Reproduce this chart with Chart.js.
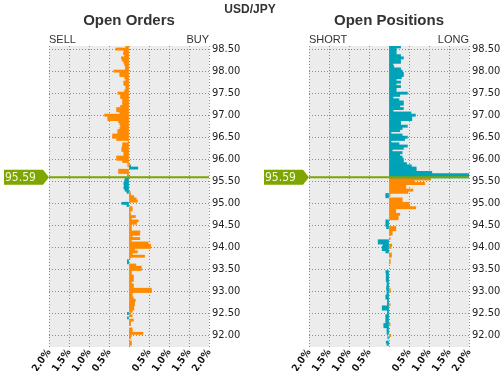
<!DOCTYPE html>
<html>
<head>
<meta charset="utf-8">
<script src="https://cdn.jsdelivr.net/npm/chart.js@4/dist/chart.umd.min.js"></script>
<style>
body { margin: 0; background: #fff; }
#wrap { position: relative; width: 500px; height: 371px; }
canvas { position: absolute; top: 0; }
#pair { position: absolute; top: 2px; left: 0; width: 500px; text-align: center;
        font: bold 12px 'Liberation Sans', Arial, sans-serif; color: #333; }
</style>
</head>
<body>
<div id="wrap">
  <canvas id="ordersChart" width="250" height="371" style="left:0"></canvas>
  <canvas id="positionsChart" width="250" height="371" style="left:250px"></canvas>
  <div id="pair">USD/JPY</div>
</div>
<script>
// price buckets run from topLevel downwards in levelStep steps
const currentPrice = 95.59;
const topLevel = 98.55;
const levelStep = 0.05;
const yTicks = [92.0, 92.5, 93.0, 93.5, 94.0, 94.5, 95.0, 95.5, 96.0, 96.5, 97.0, 97.5, 98.0, 98.5];
const xTicks = [-2, -1.5, -1, -0.5, 0, 0.5, 1, 1.5, 2];

// open orders, % per bucket (negative = sell side)
const ordersOrange = [
  -0.08, -0.33, -0.13, -0.14, -0.11, -0.19, -0.17, -0.13, -0.11, -0.09,
  -0.09, -0.38, -0.23, -0.23, -0.11, -0.08, -0.13, -0.13, -0.08, -0.08,
  -0.11, -0.28, -0.21, -0.21, -0.16, -0.16, -0.16, -0.21, -0.31, -0.31,
  -0.23, -0.61, -0.53, -0.53, -0.26, -0.23, -0.21, -0.23, -0.28, -0.28,
  -0.41, -0.41, -0.31, -0.02, -0.16, -0.16, -0.18, -0.18, -0.13, -0.13,
  -0.31, -0.31, -0.16, -0.03, -0.03, 0, -0.26, -0.26, -0.04, -0.04,
  0, 0, 0, 0, 0, 0, 0.03, 0.04, 0.12, 0.18,
  0.21, 0, 0, 0.08, 0.08, 0.03, 0.04, 0.16, 0.06, 0.23,
  0.19, 0.06, 0.06, 0.06, 0.27, 0.27, 0.08, 0.27, 0.06, 0.48,
  0.54, 0.54, 0.14, 0.21, 0.08, 0.39, 0.03, 0, 0, 0.17,
  0.31, 0.31, 0.06, 0.06, 0.11, 0.11, 0.11, 0.06, 0.11, 0.11,
  0.56, 0.56, 0.08, 0.08, 0.11, 0.16, 0.14, 0.14, 0.12, 0.12,
  0.08, 0, 0.08, 0, 0.11, 0.04, 0.04, 0, 0.08, 0.08,
  0.35, 0.06, 0.04, 0, 0.06, 0.06
];
const ordersTeal = [
  0, 0, 0, 0, 0, 0, 0, 0, 0, 0,
  0, 0, 0, 0, 0, 0, 0, 0, 0, 0,
  0, 0, 0, 0, 0, 0, 0, 0, 0, 0,
  0, 0, 0, 0, 0, 0, 0, 0, 0, 0,
  0, 0, 0, 0, 0, 0, 0, 0, 0, 0,
  0, 0, 0, 0, 0.04, 0.22, 0, 0, 0, 0,
  -0.10, -0.11, -0.13, -0.12, -0.13, -0.10, -0.05, 0, 0, 0,
  0, -0.18, -0.05, 0, 0, 0, 0, 0, 0, 0,
  0, 0, 0, 0, 0, 0, 0, 0, 0, 0,
  0, 0, 0, 0, 0, 0, 0, -0.04, -0.04, 0,
  0, 0, 0, 0, 0, 0, 0, 0, 0, 0,
  0, 0, 0, 0, 0, 0, 0, 0, 0, 0,
  0, -0.04, 0, -0.04, 0, 0, 0, 0, 0, 0,
  0, 0, 0, 0, 0, 0
];

// open positions, % per bucket (negative = short side)
const positionsTeal = [
  0.29, 0.18, 0.18, 0.18, 0.29, 0.36, 0.29, 0.29, 0.10, 0.12,
  0.29, 0.33, 0.36, 0.36, 0.31, 0.18, 0.29, 0.18, 0.29, 0.18,
  0.18, 0.46, 0.27, 0.10, 0.25, 0.36, 0.36, 0.27, 0.36, 0.10,
  0.55, 0.66, 0.57, 0.57, 0.29, 0.29, 0.46, 0.33, 0.27, 0.05,
  0.33, 0.46, 0.39, 0.05, 0.25, 0.46, 0.36, 0.08, 0.33, 0.27,
  0.33, 0.36, 0.36, 0.44, 0.56, 0.68, 0.68, 1.07, 2.2, 2.2,
  0, 0, 0, 0, 0, 0, 0, -0.08, -0.08, 0,
  0, 0, 0, 0, 0, 0, 0, 0, 0, -0.08,
  -0.08, -0.08, -0.06, 0, 0, 0, 0, 0, -0.27, -0.27,
  -0.15, -0.17, -0.17, -0.08, 0, 0, 0, 0, 0, 0,
  0, 0, -0.08, -0.07, -0.07, -0.07, -0.07, -0.05, -0.05, -0.06,
  -0.06, -0.05, -0.05, -0.08, -0.08, -0.04, -0.04, -0.04, -0.17, -0.17,
  -0.04, -0.04, -0.08, -0.08, -0.08, -0.08, -0.13, -0.13, -0.05, -0.05,
  -0.05, 0, -0.03, 0, -0.07, -0.05
];
const positionsOrange = [
  0, 0, 0, 0, 0, 0, 0, 0, 0, 0,
  0, 0, 0, 0, 0, 0, 0, 0, 0, 0,
  0, 0, 0, 0, 0, 0, 0, 0, 0, 0,
  0, 0, 0, 0, 0, 0, 0, 0, 0, 0,
  0, 0, 0, 0, 0, 0, 0, 0, 0, 0,
  0, 0, 0, 0, 0, 0, 0, 0, 0, 0,
  1.04, 0.62, 0.89, 0.42, 0.42, 0.60, 0.47, 0.03, 0, 0.33,
  0.33, 0.50, 0.52, 0.67, 0.17, 0.17, 0.27, 0.23, 0.23, 0,
  0, 0, 0.17, 0.17, 0.08, 0.08, 0, 0.03, 0, 0,
  0.07, 0.05, 0, 0, 0.06, 0.06, 0, 0.03, 0.03, 0,
  0, 0, 0, 0, 0, 0, 0, 0, 0, 0,
  0.03, 0.03, 0, 0, 0, 0, 0, 0.03, 0, 0,
  0, 0, 0, 0, 0, 0, 0.03, 0, 0, 0,
  0, 0.04, 0, 0, 0, 0
];

const ORANGE = '#ff8a00';
const TEAL = '#00a2b8';
const GREEN = '#7ea500';
const NARROW = "'Liberation Sans Narrow', 'DejaVu Sans Condensed', 'Liberation Sans', sans-serif";

const levels = ordersOrange.map((_, i) => +(topLevel - i * levelStep).toFixed(2));

// empty buckets become null so no hairline is drawn at zero
function toPoints(values) {
  return levels.map((y, i) => ({ x: values[i] === 0 ? null : values[i], y: y }));
}

const panelPlugin = {
  id: 'panel',
  beforeDraw(chart) {
    const { ctx, chartArea: a } = chart;
    ctx.save();
    ctx.fillStyle = '#ececec';
    ctx.fillRect(a.left, a.top, a.width, a.height);
    ctx.restore();
  },
  afterDatasetsDraw(chart) {
    const { ctx, chartArea: a } = chart;
    const y = chart.scales.y.getPixelForValue(currentPrice);
    ctx.save();
    ctx.strokeStyle = GREEN;
    ctx.lineWidth = 2;
    ctx.beginPath();
    ctx.moveTo(a.left, y);
    ctx.lineTo(a.right, y);
    ctx.stroke();
    // price tag
    ctx.fillStyle = GREEN;
    ctx.beginPath();
    ctx.moveTo(a.left - 45, y - 7.5);
    ctx.lineTo(a.left - 6, y - 7.5);
    ctx.lineTo(a.left, y);
    ctx.lineTo(a.left - 6, y + 7.5);
    ctx.lineTo(a.left - 45, y + 7.5);
    ctx.closePath();
    ctx.fill();
    ctx.fillStyle = '#f4f8e4';
    ctx.font = '12px ' + NARROW;
    ctx.textBaseline = 'middle';
    ctx.textAlign = 'left';
    ctx.fillText(currentPrice.toFixed(2), a.left - 44, y + 0.5);
    ctx.restore();
  },
  afterDraw(chart, args, opts) {
    const { ctx, chartArea: a } = chart;
    ctx.save();
    ctx.fillStyle = '#333';
    ctx.textBaseline = 'middle';
    ctx.font = "bold 15px 'Liberation Sans', Arial, sans-serif";
    ctx.textAlign = 'center';
    ctx.fillText(opts.title, (a.left + a.right) / 2, 21);
    ctx.font = "11px 'Liberation Sans', Arial, sans-serif";
    ctx.textAlign = 'left';
    ctx.fillText(opts.leftLabel, a.left, 40);
    ctx.textAlign = 'right';
    ctx.fillText(opts.rightLabel, a.right, 40);
    ctx.restore();
  }
};

function makePanel(id, title, leftLabel, rightLabel, orange, teal, padLeft, axisWidth) {
  new Chart(document.getElementById(id), {
    type: 'bar',
    data: {
      datasets: [
        { data: toPoints(teal), backgroundColor: TEAL },
        { data: toPoints(orange), backgroundColor: ORANGE }
      ]
    },
    options: {
      indexAxis: 'y',
      responsive: false,
      animation: false,
      layout: { padding: { left: padLeft, top: 46, right: 0, bottom: 0 } },
      datasets: { bar: { barPercentage: 1, categoryPercentage: 1, grouped: false, borderWidth: 0 } },
      plugins: {
        legend: { display: false },
        tooltip: { enabled: false },
        panel: { title: title, leftLabel: leftLabel, rightLabel: rightLabel }
      },
      scales: {
        y: {
          type: 'linear',
          position: 'right',
          min: 91.74,
          max: 98.57,
          offset: false,
          afterBuildTicks: s => { s.ticks = yTicks.map(v => ({ value: v })); },
          afterFit: s => { s.width = axisWidth; },
          ticks: {
            padding: 3,
            color: '#222',
            font: { size: 11, family: NARROW },
            callback: v => v.toFixed(2)
          },
          grid: { color: '#8c8c8c', drawTicks: false, offset: false },
          border: { display: false, dash: [1, 2] }
        },
        x: {
          type: 'linear',
          min: -2,
          max: 2,
          afterBuildTicks: s => { s.ticks = xTicks.map(v => ({ value: v })); },
          afterFit: s => { s.height = 24; },
          ticks: {
            minRotation: 55,
            maxRotation: 55,
            autoSkip: false,
            padding: 0,
            color: '#111',
            font: { size: 10, family: NARROW, weight: 'bold' },
            callback: v => v === 0 ? '' : Math.abs(v).toFixed(1) + '%'
          },
          grid: { color: '#8c8c8c', drawTicks: false },
          border: { display: false, dash: [1, 2] }
        }
      }
    },
    plugins: [panelPlugin]
  });
}

makePanel('ordersChart', 'Open Orders', 'SELL', 'BUY', ordersOrange, ordersTeal, 49, 41);
makePanel('positionsChart', 'Open Positions', 'SHORT', 'LONG', positionsOrange, positionsTeal, 59, 31);
</script>
</body>
</html>
